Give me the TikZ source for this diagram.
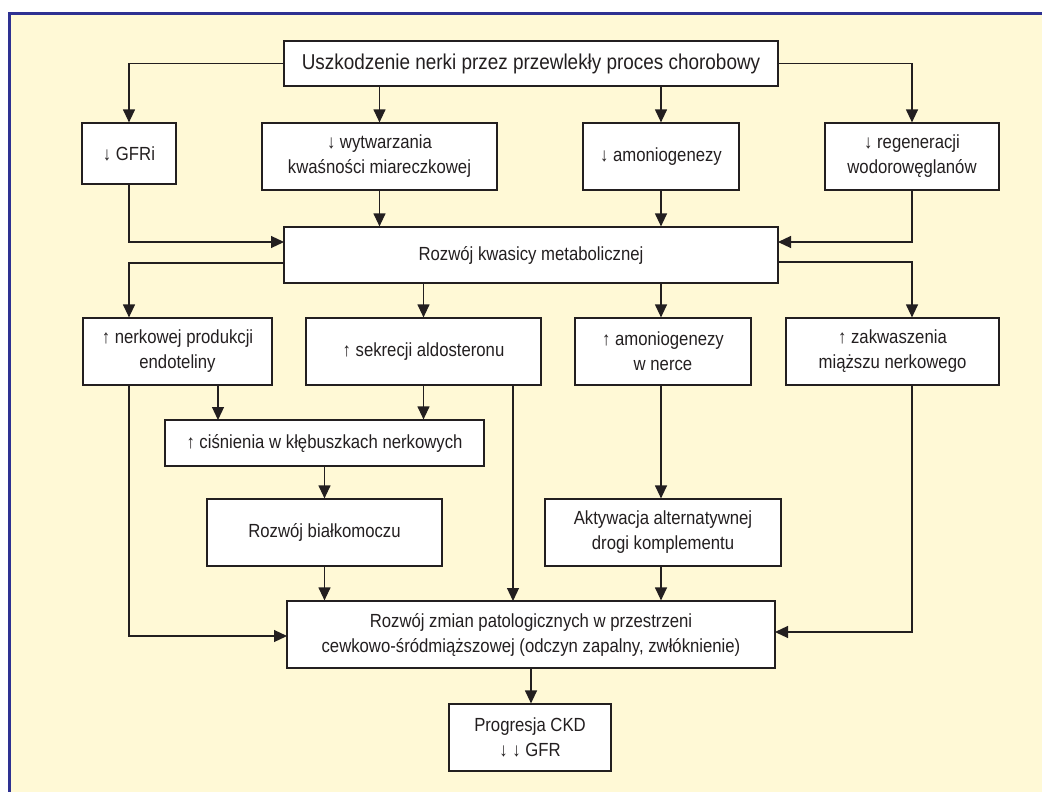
\documentclass[tikz,border=0pt]{standalone}
\usepackage{fontspec}
\setmainfont{Liberation Sans}[FakeStretch=0.88]
\usetikzlibrary{arrows.meta}
\definecolor{bgyellow}{RGB}{255,249,214}
\definecolor{frameblue}{RGB}{46,49,146}
\definecolor{linec}{RGB}{35,31,32}
\begin{document}
\begin{tikzpicture}[x=1pt,y=-1pt,
  box/.style={draw=linec, fill=white, line width=1.2pt, inner sep=0pt, align=center,
    font=\fontsize{19}{25}\selectfont, text=linec},
  arr/.style={-{Triangle[length=13pt,width=12pt]}, line width=1.2pt, draw=linec},
  ln/.style={line width=1.2pt, draw=linec}]
\useasboundingbox (0,0) rectangle (1042,792);
\fill[white] (0,0) rectangle (1042,792);
\fill[bgyellow] (8,12) rectangle (1042,792);
\draw[frameblue, line width=2.6pt] (9.3,792) -- (9.3,13.3) -- (1042,13.3);

\node[box, minimum width=494pt, minimum height=45pt, font=\fontsize{21.5}{25}\selectfont] (top) at (531,63.5) {Uszkodzenie nerki przez przewlekły proces chorobowy};
\node[box, minimum width=94pt, minimum height=61pt] (gfr) at (129,153.5) {↓ GFRi};
\node[box, minimum width=235pt, minimum height=67pt] (wyt) at (379.5,156.5) {↓ wytwarzania\\kwaśności miareczkowej};
\node[box, minimum width=156pt, minimum height=67pt] (amo) at (661,156.5) {↓ amoniogenezy};
\node[box, minimum width=174pt, minimum height=67pt] (reg) at (912,156.5) {↓ regeneracji\\wodorowęglanów};
\node[box, minimum width=494pt, minimum height=56pt] (met) at (531,255) {Rozwój kwasicy metabolicznej};
\node[box, minimum width=189pt, minimum height=67pt] (end) at (177.5,351.5) {↑ nerkowej produkcji\\endoteliny};
\node[box, minimum width=235pt, minimum height=67pt] (sek) at (423.5,351.5) {↑ sekrecji aldosteronu};
\node[box, minimum width=176pt, minimum height=67pt] (amn) at (663,351.5) {↑ amoniogenezy\\w nerce};
\node[box, minimum width=213pt, minimum height=67pt] (zak) at (892.5,351.5) {↑ zakwaszenia\\miąższu nerkowego};
\node[box, minimum width=319pt, minimum height=46pt] (cis) at (324.5,443) {↑ ciśnienia w kłębuszkach nerkowych};
\node[box, minimum width=235pt, minimum height=67pt] (bia) at (324.5,532.5) {Rozwój białkomoczu};
\node[box, minimum width=236pt, minimum height=67pt] (akt) at (663,532.5) {Aktywacja alternatywnej\\drogi komplementu};
\node[box, minimum width=488pt, minimum height=67pt] (pat) at (531,634.5) {Rozwój zmian patologicznych w przestrzeni\\cewkowo-śródmiąższowej (odczyn zapalny, zwłóknienie)};
\node[box, minimum width=162pt, minimum height=67pt] (pro) at (530,737.5) {Progresja CKD\\↓ ↓ GFR};

\coordinate (metLin) at (284,242);
\coordinate (metRin) at (778,242);
\coordinate (metLout) at (284,263);
\coordinate (metRout) at (778,262);
\coordinate (patLin) at (287,636);
\coordinate (patRin) at (775,632);

% row 1 -> row 2
\draw[arr] (top.west) -| (gfr.north);
\draw[arr] (top.east) -| (reg.north);
\draw[arr] (wyt.north |- top.south) -- (wyt.north);
\draw[arr] (amo.north |- top.south) -- (amo.north);
% row 2 -> met
\draw[arr] (gfr.south) |- (metLin);
\draw[arr] (reg.south) |- (metRin);
\draw[arr] (wyt.south) -- (wyt.south |- met.north);
\draw[arr] (amo.south) -- (amo.south |- met.north);
% met -> row 3
\draw[arr] (metLout) -| (end.north -| gfr.south);
\draw[arr] (metRout) -| (zak.north -| reg.south);
\draw[arr] (sek.north |- met.south) -- (sek.north);
\draw[arr] (amo.south |- met.south) -- (amo.south |- amn.north);
% row 3 -> lower
\draw[arr] (end.south -| gfr.south) |- (patLin);
\draw[arr] (218,385) -- (218,420);
\draw[arr] (sek.south) -- (sek.south |- cis.north);
\draw[arr] (513,385) -- (513,601);
\draw[arr] (cis.south) -- (bia.north);
\draw[arr] (bia.south) -- (bia.south |- pat.north);
\draw[arr] (amo.south |- amn.south) -- (amo.south |- akt.north);
\draw[arr] (amo.south |- akt.south) -- (amo.south |- pat.north);
\draw[arr] (zak.south -| reg.south) |- (patRin);
\draw[arr] (pat.south) -- (pat.south |- pro.north);
\end{tikzpicture}
\end{document}
